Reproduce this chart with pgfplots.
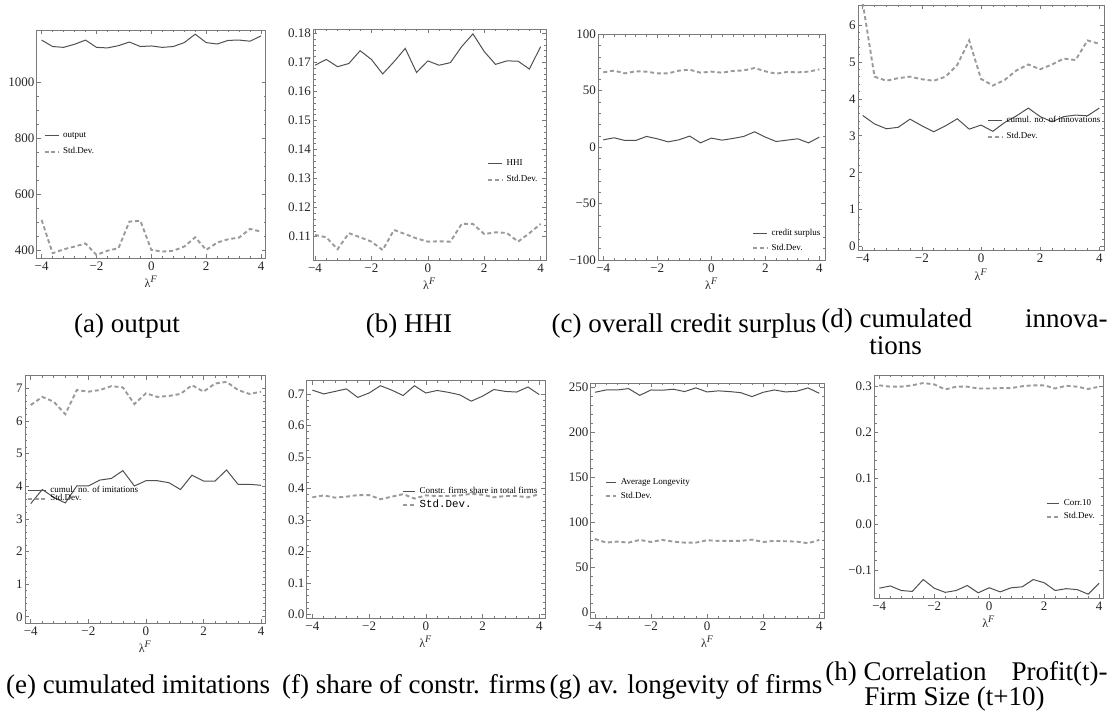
\documentclass[border=0pt]{standalone}
\usepackage{pgfplots}
\pgfplotsset{compat=1.18}
\usepackage{pgfplotstable}
\usepackage{fontspec}
\setmainfont{Liberation Serif}
\newfontfamily\monofont{Liberation Mono}
\definecolor{axisgray}{HTML}{7A7A7A}
\definecolor{solidgray}{HTML}{505050}
\definecolor{dashgray}{HTML}{9A9A9A}

\pgfplotstableread{
x m s
-4.0 1152 510
-3.6 1129 391
-3.2 1126 405
-2.8 1137 415
-2.4 1152 426
-2.0 1126 385
-1.6 1124 400
-1.2 1132 409
-0.8 1145 504
-0.4 1129 507
0.0 1131 403
0.4 1126 397
0.8 1129 400
1.2 1143 415
1.6 1173 448
2.0 1143 403
2.4 1138 429
2.8 1151 441
3.2 1152 447
3.6 1148 478
4.0 1167 468
}\tA
\pgfplotstableread{
x m s
-4.0 0.1690 0.1106
-3.6 0.1710 0.1098
-3.2 0.1685 0.1057
-2.8 0.1696 0.1112
-2.4 0.1740 0.1098
-2.0 0.1710 0.1083
-1.6 0.1660 0.1054
-1.2 0.1702 0.1123
-0.8 0.1748 0.1109
-0.4 0.1665 0.1094
0.0 0.1705 0.1083
0.4 0.1690 0.1084
0.8 0.1699 0.1083
1.2 0.1754 0.1144
1.6 0.1798 0.1144
2.0 0.1737 0.1109
2.4 0.1693 0.1115
2.8 0.1705 0.1113
3.2 0.1704 0.1083
3.6 0.1677 0.1112
4.0 0.1754 0.1144
}\tB
\pgfplotstableread{
x m s
-4.0 6.5 66.3
-3.6 8.3 67.8
-3.2 5.9 65.4
-2.8 5.9 67.2
-2.4 9.5 66.9
-2.0 7.4 65.4
-1.6 4.7 65.4
-1.2 6.5 67.8
-0.8 9.8 68.6
-0.4 3.8 66.0
0.0 8.0 66.9
0.4 6.2 66.0
0.8 7.7 67.5
1.2 9.5 68.0
1.6 13.6 70.1
2.0 8.9 67.2
2.4 5.0 65.1
2.8 6.2 66.6
3.2 7.4 66.3
3.6 3.8 66.9
4.0 8.9 68.9
}\tC
\pgfplotstableread{
x m s
-4.0 3.55 6.60
-3.6 3.32 4.60
-3.2 3.19 4.49
-2.8 3.23 4.56
-2.4 3.45 4.60
-2.0 3.27 4.53
-1.6 3.11 4.49
-1.2 3.27 4.60
-0.8 3.46 4.92
-0.4 3.18 5.58
0.0 3.29 4.54
0.4 3.12 4.36
0.8 3.36 4.51
1.2 3.54 4.77
1.6 3.75 4.93
2.0 3.52 4.80
2.4 3.38 4.93
2.8 3.52 5.09
3.2 3.56 5.05
3.6 3.54 5.58
4.0 3.75 5.49
}\tD
\pgfplotstableread{
x m s
-4.0 3.47 6.49
-3.6 3.90 6.74
-3.2 3.66 6.59
-2.8 3.49 6.21
-2.4 4.01 6.95
-2.0 4.01 6.90
-1.6 4.19 6.95
-1.2 4.24 7.07
-0.8 4.48 7.03
-0.4 4.01 6.52
0.0 4.17 6.85
0.4 4.17 6.74
0.8 4.11 6.77
1.2 3.90 6.83
1.6 4.34 7.10
2.0 4.16 6.90
2.4 4.16 7.15
2.8 4.50 7.20
3.2 4.06 6.95
3.6 4.06 6.83
4.0 4.03 6.90
}\tE
\pgfplotstableread{
x m s
-4.0 0.712 0.372
-3.6 0.700 0.378
-3.2 0.708 0.371
-2.8 0.716 0.374
-2.4 0.689 0.379
-2.0 0.703 0.379
-1.6 0.726 0.366
-1.2 0.712 0.374
-0.8 0.695 0.382
-0.4 0.726 0.368
0.0 0.703 0.378
0.4 0.711 0.376
0.8 0.705 0.376
1.2 0.697 0.378
1.6 0.677 0.383
2.0 0.693 0.380
2.4 0.714 0.372
2.8 0.708 0.376
3.2 0.706 0.376
3.6 0.722 0.372
4.0 0.698 0.382
}\tF
\pgfplotstableread{
x m s
-4.0 244.4 81.5
-3.6 247.0 77.4
-3.2 247.0 78.5
-2.8 248.5 77.4
-2.4 241.0 80.4
-2.0 247.0 78.1
-1.6 246.7 80.4
-1.2 247.8 78.5
-0.8 245.2 77.4
-0.4 249.3 77.4
0.0 244.8 80.0
0.4 246.0 79.3
0.8 245.2 79.3
1.2 244.0 79.3
1.6 239.6 80.7
2.0 244.4 78.1
2.4 247.0 79.3
2.8 244.8 78.9
3.2 245.6 78.5
3.6 249.3 76.7
4.0 243.3 80.4
}\tG
\pgfplotstableread{
x m s
-4.0 -0.140 0.303
-3.6 -0.135 0.300
-3.2 -0.145 0.300
-2.8 -0.147 0.303
-2.4 -0.121 0.308
-2.0 -0.140 0.305
-1.6 -0.149 0.294
-1.2 -0.145 0.300
-0.8 -0.134 0.300
-0.4 -0.150 0.296
0.0 -0.139 0.296
0.4 -0.148 0.297
0.8 -0.139 0.297
1.2 -0.137 0.301
1.6 -0.121 0.303
2.0 -0.128 0.303
2.4 -0.145 0.296
2.8 -0.141 0.302
3.2 -0.143 0.300
3.6 -0.153 0.295
4.0 -0.129 0.300
}\tH

\pgfplotsset{
  panel/.style={
    scale only axis, anchor=south west,
    xtick={-4,-2,0,2,4}, xticklabels={−4,−2,0,2,4},
    minor x tick num=4, minor y tick num=4,
    axis line style={draw=axisgray, line width=0.35pt},
    every tick/.style={axisgray, line width=0.3pt},
    major tick length=2pt, minor tick length=1.1pt,
    tick label style={font=\fontsize{6.5}{7}\selectfont, text=black!85},
    xticklabel style={inner sep=1.6pt},
    yticklabel style={inner sep=1pt},
    xlabel={λ\textsuperscript{\itshape F}},
    xlabel style={font=\fontsize{6}{7}\selectfont, inner sep=1pt, text=black!85},
    legend cell align=left,
    legend image code/.code={\draw[##1] (0pt,0pt) -- (7pt,0pt);},
    legend style={draw=none, fill=none, anchor=west, inner sep=0pt,
      font=\fontsize{4.5}{5}\selectfont, column sep=1.8pt,
      nodes={inner sep=0pt, text height=3pt, text depth=1pt}},
  },
  sline/.style={color=solidgray, line width=0.5pt},
  dline/.style={color=dashgray, line width=0.95pt, dash pattern=on 2pt off 1.4pt},
}
\newcommand{\capf}{\fontsize{13.5}{16}\selectfont}

\begin{document}
\begin{tikzpicture}
\useasboundingbox (0,0) rectangle (555pt,-355.5pt);

% (a)
\begin{axis}[panel, at={(18.35pt,-129.15pt)}, width=114.5pt, height=114.15pt,
  xmin=-4.18, xmax=4.17, ymin=373, ymax=1188,
  ytick={400,600,800,1000}, yticklabels={400,600,800,1000}, minor y tick num=3,
  legend style={at={(0.029,0.5015)}, row sep=3.85pt}]
\addplot[sline] table[x=x,y=m] {\tA};
\addplot[dline] table[x=x,y=s] {\tA};
\legend{output,Std.Dev.}
\end{axis}

% (b)
\begin{axis}[panel, at={(156.65pt,-130pt)}, width=116.35pt, height=115.35pt,
  xmin=-4.06, xmax=4.19, ymin=0.10198, ymax=0.18137,
  ytick={0.11,0.12,0.13,0.14,0.15,0.16,0.17,0.18},
  yticklabels={0.11,0.12,0.13,0.14,0.15,0.16,0.17,0.18},
  legend style={at={(0.745,0.383)}, row sep=4.35pt}]
\addplot[sline] table[x=x,y=m] {\tB};
\addplot[dline] table[x=x,y=s] {\tB};
\legend{HHI,Std.Dev.}
\end{axis}

% (c)
\begin{axis}[panel, at={(299.15pt,-130pt)}, width=113.35pt, height=112.85pt,
  xmin=-4.185, xmax=4.21, ymin=-100, ymax=100,
  ytick={-100,-50,0,50,100}, yticklabels={−100,−50,0,50,100},
  legend style={at={(0.677,0.085)}, row sep=3.5pt}]
\addplot[sline] table[x=x,y=m] {\tC};
\addplot[dline] table[x=x,y=s] {\tC};
\legend{credit surplus,Std.Dev.}
\end{axis}

% (d)
\begin{axis}[panel, at={(429pt,-125.35pt)}, width=123.15pt, height=122.85pt,
  xmin=-4.16, xmax=4.17, ymin=-0.11, ymax=6.54,
  ytick={0,1,2,3,4,5,6}, yticklabels={0,1,2,3,4,5,6},
  legend style={at={(0.5225,0.496)}, row sep=3.85pt}]
\addplot[sline] table[x=x,y=m] {\tD};
\addplot[dline] table[x=x,y=s] {\tD};
\legend{cumul. no. of innovations,Std.Dev.}
\end{axis}

% (e)
\begin{axis}[panel, at={(12.5pt,-311.65pt)}, width=120.35pt, height=123.8pt,
  xmin=-4.2, xmax=4.16, ymin=-0.2, ymax=7.39,
  ytick={0,1,2,3,4,5,6,7}, yticklabels={0,1,2,3,4,5,6,7},
  legend image code/.code={\draw[#1] (0pt,0pt) -- (9pt,0pt);},
  legend style={at={(0.006,0.519)}, row sep=-0.1pt}]
\addplot[sline] table[x=x,y=m] {\tE};
\addplot[dline] table[x=x,y=s] {\tE};
\legend{cumul. no. of imitations,Std.Dev.}
\end{axis}

% (f)
\begin{axis}[panel, at={(153.35pt,-309.15pt)}, width=119.15pt, height=118.8pt,
  xmin=-4.2, xmax=4.2, ymin=-0.012, ymax=0.742,
  ytick={0,0.1,0.2,0.3,0.4,0.5,0.6,0.7},
  yticklabels={0.0,0.1,0.2,0.3,0.4,0.5,0.6,0.7},
  legend image code/.code={\draw[#1] (0pt,0pt) -- (6pt,0pt);},
  legend style={at={(0.399,0.506)}, row sep=3pt}]
\addplot[sline] table[x=x,y=m] {\tF};
\addplot[dline] table[x=x,y=s] {\tF};
\legend{Constr. firms share in total firms,{\monofont\fontsize{5.4}{6}\selectfont Std.Dev.}}
\end{axis}

% (g)
\begin{axis}[panel, at={(295.35pt,-309.15pt)}, width=116.8pt, height=117.5pt,
  xmin=-4.15, xmax=4.18, ymin=-6.7, ymax=254.4,
  ytick={0,50,100,150,200,250}, yticklabels={0,50,100,150,200,250},
  legend image code/.code={\draw[#1] (0pt,0pt) -- (5pt,0pt);},
  legend style={at={(0.061,0.549)}, row sep=2.85pt}]
\addplot[sline] table[x=x,y=m] {\tG};
\addplot[dline] table[x=x,y=s] {\tG};
\legend{Average Longevity,Std.Dev.}
\end{axis}

% (h)
\begin{axis}[panel, at={(437.15pt,-299.15pt)}, width=114.5pt, height=111.65pt,
  xmin=-4.18, xmax=4.15, ymin=-0.162, ymax=0.3255,
  ytick={-0.1,0,0.1,0.2,0.3}, yticklabels={−0.1,0.0,0.1,0.2,0.3},
  legend image code/.code={\draw[#1] (0pt,0pt) -- (6pt,0pt);},
  legend style={at={(0.75,0.394)}, row sep=2.35pt}]
\addplot[sline] table[x=x,y=m] {\tH};
\addplot[dline] table[x=x,y=s] {\tH};
\legend{Corr.10,Std.Dev.}
\end{axis}

% captions
\node[anchor=base] at (63.5pt,-166.5pt) {\capf (a) output};
\node[anchor=base] at (204.5pt,-166.5pt) {\capf (b) HHI};
\node[anchor=base] at (342pt,-166.5pt) {\capf (c) overall credit surplus};
\node[anchor=base west, inner sep=0pt] at (410.5pt,-164pt) {\capf (d) cumulated};
\node[anchor=base east, inner sep=0pt] at (554pt,-164pt) {\capf innova-};
\node[anchor=base west, inner sep=0pt] at (434.5pt,-177.5pt) {\capf tions};
\node[anchor=base] at (69pt,-346.5pt) {\capf (e) cumulated imitations};
\node[anchor=base] at (207pt,-346.5pt) {\capf (f) share of constr. firms};
\node[anchor=base] at (343pt,-346.5pt) {\capf (g) av. longevity of firms};
\node[anchor=base west, inner sep=0pt] at (412.5pt,-340pt) {\capf (h) Correlation};
\node[anchor=base east, inner sep=0pt] at (554pt,-340pt) {\capf Profit(t)-};
\node[anchor=base west, inner sep=0pt] at (432pt,-352.5pt) {\capf Firm Size (t+10)};
\end{tikzpicture}
\end{document}
